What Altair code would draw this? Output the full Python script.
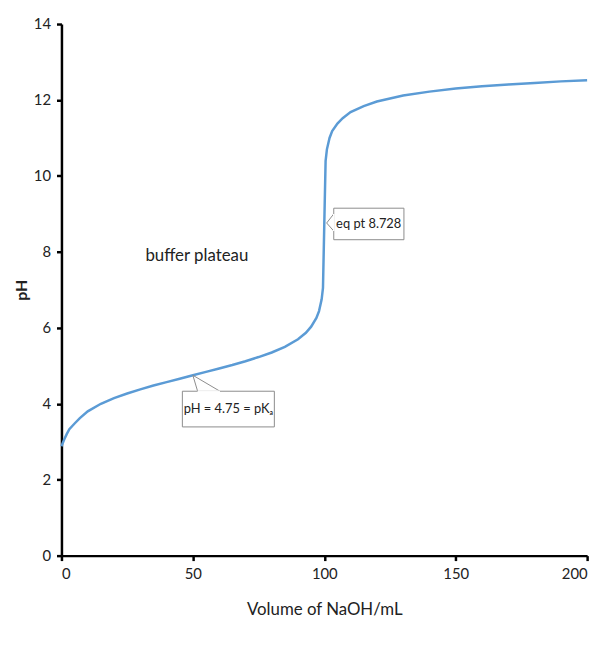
import altair as alt
import pandas as pd

# Titration curve values
volume = [0, 1, 2, 3, 5, 7, 10, 15, 20, 25, 30, 35, 40, 45, 50, 55, 60, 65, 70, 75,
          80, 85, 90, 93, 95, 97, 98, 99, 99.5, 100, 100.5, 101, 102, 103, 105, 107,
          110, 115, 120, 130, 140, 150, 160, 170, 180, 190, 200]
ph = [2.88, 3.05, 3.2, 3.33, 3.48, 3.62, 3.8, 4.0, 4.15, 4.27, 4.38, 4.48, 4.57, 4.66,
      4.75, 4.84, 4.93, 5.02, 5.12, 5.23, 5.35, 5.5, 5.7, 5.87, 6.03, 6.26, 6.44, 6.75,
      7.05, 8.73, 10.4, 10.7, 11.0, 11.18, 11.38, 11.52, 11.68, 11.84, 11.96, 12.12,
      12.22, 12.30, 12.36, 12.41, 12.45, 12.49, 12.52]

# Annotation boxes (data coordinates)
box_x = [46.0, 103.6]
box_x2 = [81.0, 130.3]
box_y = [4.33, 9.15]
box_y2 = [3.39, 8.32]
box_text = ["pH = 4.75 = pKₐ", "eq pt 8.728"]
text_x = [63.5, 116.9]
text_y = [3.86, 8.73]

# Callout pointer segments
seg_x = [50.0, 50.0, 100.9, 100.9]
seg_y = [4.75, 4.75, 8.76, 8.76]
seg_x2 = [51.8, 60.3, 103.6, 103.6]
seg_y2 = [4.33, 4.33, 9.0, 8.55]

FONT = "Lato"

curve = pd.DataFrame({"v": volume, "ph": ph})
boxes = pd.DataFrame({"x": box_x, "x2": box_x2, "y": box_y, "y2": box_y2})
segs = pd.DataFrame({"x": seg_x, "y": seg_y, "x2": seg_x2, "y2": seg_y2})
texts = pd.DataFrame({"x": text_x, "y": text_y, "t": box_text})
gaps = pd.DataFrame({"x": [51.8, 103.6], "x2": [60.3, 103.6], "y": [4.33, 9.0], "y2": [4.33, 8.55]})

xs = alt.Scale(domain=[0, 200], nice=False)
ys = alt.Scale(domain=[0, 14], nice=False)

line = alt.Chart(curve).mark_line(color="#5B9BD5", strokeWidth=2.5).encode(
    x=alt.X("v:Q", scale=xs, title="Volume of NaOH/mL",
            axis=alt.Axis(values=[0, 50, 100, 150, 200], titlePadding=20)),
    y=alt.Y("ph:Q", scale=ys, title="pH",
            axis=alt.Axis(values=list(range(0, 15, 2)), titlePadding=4, titleFontSize=16)),
)

rects = alt.Chart(boxes).mark_rect(fill="white", stroke="#8c8c8c", strokeWidth=1).encode(
    x="x:Q", x2="x2:Q", y="y:Q", y2="y2:Q"
)
gap = alt.Chart(gaps).mark_rule(color="white", strokeWidth=1.5).encode(
    x="x:Q", x2="x2:Q", y="y:Q", y2="y2:Q"
)
pointers = alt.Chart(segs).mark_rule(color="#8c8c8c", strokeWidth=1).encode(
    x="x:Q", x2="x2:Q", y="y:Q", y2="y2:Q"
)
labels = alt.Chart(texts).mark_text(font=FONT, fontSize=13, color="#222").encode(
    x="x:Q", y="y:Q", text="t:N"
)
plateau = alt.Chart(pd.DataFrame({"x": [51.5], "y": [7.9], "t": ["buffer plateau"]})).mark_text(
    font=FONT, fontSize=17, color="#222").encode(x="x:Q", y="y:Q", text="t:N")

chart = alt.layer(line, pointers, rects, gap, labels, plateau).properties(
    width=531, height=537, autosize=alt.AutoSizeParams(type="none"),
    padding={"left": 54, "top": 13, "right": 12, "bottom": 80},
).configure_view(stroke=None).configure_axis(
    grid=False, domainColor="black", domainWidth=2.5, tickColor="black", tickWidth=2.5,
    tickSize=5, labelFont=FONT, labelFontSize=15, labelColor="#222", labelPadding=6,
    titleFont=FONT, titleFontSize=17, titleColor="#222", titleFontWeight="normal",
).configure_axisY(titleFontWeight="bold")

chart.save("out.html", embed_options={"renderer": "svg", "actions": False})
